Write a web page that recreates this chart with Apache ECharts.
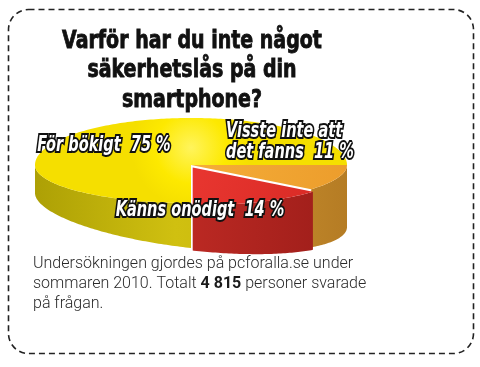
<!DOCTYPE html>
<html><head><meta charset="utf-8">
<script src="https://cdn.jsdelivr.net/npm/echarts@6/dist/echarts.min.js"></script>
<style>html,body{margin:0;padding:0;background:#fff}#c{width:480px;height:367px}</style>
</head><body><div id="c"></div>
<script>
// ---- data ----
const categories = ['För bökigt', 'Visste inte att\ndet fanns', 'Känns onödigt'];
const values = [75, 11, 14];
const titleLines = ['Varför har du inte något', 'säkerhetslås på din', 'smartphone?'];
const noteParts = ['Undersökningen gjordes på pcforalla.se under\nsommaren 2010. Totalt ', '4 815', ' personer svarade\npå frågan.'];

// ---- style / geometry ----
const G = {cx: 191, cy: 165, rx: 156, ryTop: 47, ryBot: 38, depthA: 45, depthB: 17, startDeg: 90};
const explode = [0, 0, 4];
const topColors = [
  {type:'radial', x:0.5, y:0.35, r:0.7, colorStops:[{offset:0,color:'#fff45c'},{offset:0.6,color:'#fde900'},{offset:1,color:'#f5df00'}]},
  {type:'linear', x:0, y:0, x2:1, y2:1, colorStops:[{offset:0,color:'#f5ad38'},{offset:1,color:'#ec9d2c'}]},
  {type:'linear', x:0, y:0, x2:1, y2:1, colorStops:[{offset:0,color:'#e83630'},{offset:1,color:'#da2b26'}]}
];
const sideColors = [
  ['#ada005', '#d0c010', '#c2b208'],
  ['#c68c2e', '#d49a34', '#b57c24'],
  ['#aa221d', '#be2a24', '#9c1d19']
];
const labelAnchor = [[104, 146, 'center'], [226, 142, 'left'], [200, 211, 'center']];

function rad(d){ return d * Math.PI / 180; }
function pt(tDeg){
  const t = rad(tDeg), s = Math.sin(t);
  return [G.cx + G.rx * Math.cos(t), G.cy + (s < 0 ? G.ryTop : G.ryBot) * s];
}
function depth(tDeg){ return G.depthA + G.depthB * Math.cos(rad(tDeg)); }

const total = values.reduce((a,b)=>a+b, 0);
const spans = [];
(function(){ let a = G.startDeg; values.forEach(v => { const b = a + v / total * 360; spans.push([a, b]); a = b; }); })();

function renderItem(params, api){
  const i = params.dataIndex;
  const [a0, a1] = spans[i];
  const mid = (a0 + a1) / 2;
  const ox = explode[i] * Math.cos(rad(mid)), oy = explode[i] * Math.sin(rad(mid)) * 0.7;
  const children = [];
  for (let k = 0; k <= 720; k += 360){
    const s0 = Math.max(a0, k), s1 = Math.min(a1, k + 180);
    if (s1 > s0){
      const pts = [];
      for (let t = s0; t < s1; t += 1) pts.push(pt(t));
      pts.push(pt(s1));
      const bot = [];
      for (let t = s0; t < s1; t += 1){ const p = pt(t); bot.push([p[0], p[1] + depth(t)]); }
      const pe = pt(s1); bot.push([pe[0], pe[1] + depth(s1)]);
      const poly = pts.concat(bot.reverse()).map(p => [p[0] + ox, p[1] + oy]);
      const c = sideColors[i];
      children.push({type:'polygon', shape:{points: poly}, style:{
        fill:{type:'linear', x:G.cx - G.rx, y:0, x2:G.cx + G.rx, y2:0, global:true,
          colorStops:[{offset:0,color:c[0]},{offset:0.45,color:c[1]},{offset:1,color:c[2]}]},
        stroke:null}});
    }
  }
  const tp = [[G.cx, G.cy]];
  for (let t = a0; t < a1; t += 1) tp.push(pt(t));
  tp.push(pt(a1));
  children.push({type:'polygon', shape:{points: tp.map(p => [p[0] + ox, p[1] + oy])},
    style:{fill: topColors[i], stroke:null}});
  return {type:'group', children};
}

const labelFont = 'italic bold 21px "DejaVu Sans Condensed", "DejaVu Sans", sans-serif';
const labels = categories.map((c, i) => ({
  type:'text', x: labelAnchor[i][0], y: labelAnchor[i][1], z: 100,
  scaleX: 0.77, originX: 0, originY: 0,
  style:{text: c + '  ' + values[i] + ' %', font: labelFont, fill:'#fff', stroke:'#111', lineWidth:4,
    strokeFirst:true, align: labelAnchor[i][2], verticalAlign:'middle', lineHeight:21}
}));

const chart = echarts.init(document.getElementById('c'), null, {renderer:'canvas'});
chart.setOption({
  animation:false,
  graphic:[
    {type:'rect', shape:{x:8.5, y:9.5, width:465, height:344, r:20}, z:1,
      style:{fill:'none', stroke:'#222', lineWidth:1.6, lineDash:[6,4]}},
    {type:'text', x:192, y:27, z:50, scaleX:0.88, originX:0, originY:0,
      style:{text: titleLines.join('\n'), font:'bold 24px "DejaVu Sans Condensed", "DejaVu Sans", sans-serif',
        fill:'#111', stroke:'#111', lineWidth:0.8, align:'center', lineHeight:29.5}},
    {type:'text', x:33, y:254, z:50,
      style:{text: '{n|' + noteParts[0].split('\n').join('}\n{n|') + '}{b|' + noteParts[1] + '}{n|' + noteParts[2].split('\n').join('}\n{n|') + '}',
        rich:{
          n:{font:'300 16px "Roboto", "Liberation Sans", sans-serif', fill:'#2a2a2a', lineHeight:20},
          b:{font:'bold 16px "Roboto", "Liberation Sans", sans-serif', fill:'#1a1a1a', lineHeight:20}
        }}}
  ].concat(labels),
  series:[{
    type:'custom', coordinateSystem:'none', renderItem,
    data: values.map(v => [v])
  }]
});
</script></body></html>
